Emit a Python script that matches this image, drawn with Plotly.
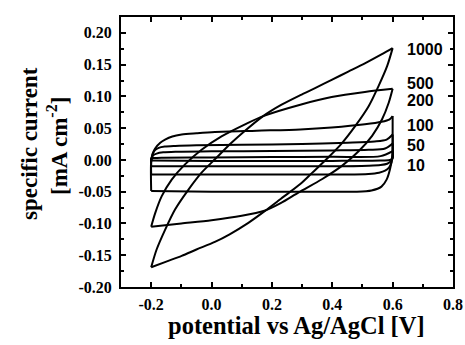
import plotly.graph_objects as go

# ---------------- data (potential in V, specific current in mA cm^-2) ----------------
scan_rates = ["1000", "500", "200", "100", "50", "10"]

E_UP_1000 = [-0.200, -0.182, -0.154, -0.121, -0.077, -0.033, 0.011, 0.066, 0.111, 0.171, 0.232, 0.294, 0.343, 0.398, 0.453, 0.508, 0.563, 0.600]
I_UP_1000 = [-0.169, -0.141, -0.110, -0.078, -0.047, -0.020, 0.001, 0.027, 0.046, 0.069, 0.087, 0.102, 0.113, 0.126, 0.139, 0.152, 0.166, 0.176]
E_DN_1000 = [0.600, 0.582, 0.554, 0.521, 0.477, 0.433, 0.389, 0.334, 0.294, 0.230, 0.175, 0.122, 0.060, 0.011, -0.050, -0.099, -0.150, -0.200]
I_DN_1000 = [0.176, 0.148, 0.117, 0.085, 0.054, 0.027, 0.005, -0.020, -0.038, -0.061, -0.081, -0.099, -0.117, -0.129, -0.141, -0.151, -0.160, -0.169]

E_UP_500 = [-0.200, -0.187, -0.165, -0.132, -0.088, -0.033, 0.033, 0.111, 0.171, 0.294, 0.398, 0.508, 0.600]
I_UP_500 = [-0.105, -0.084, -0.057, -0.031, -0.007, 0.016, 0.037, 0.056, 0.069, 0.087, 0.099, 0.107, 0.112]
E_DN_500 = [0.600, 0.587, 0.565, 0.532, 0.488, 0.433, 0.367, 0.289, 0.229, 0.175, 0.100, 0.000, -0.100, -0.200]
I_DN_500 = [0.112, 0.090, 0.064, 0.038, 0.014, -0.009, -0.030, -0.051, -0.068, -0.080, -0.088, -0.095, -0.100, -0.105]

E_UP_200 = [-0.200, -0.200, -0.195, -0.187, -0.170, -0.154, -0.130, -0.099, -0.050, 0.011, 0.150, 0.294, 0.398, 0.508, 0.563, 0.590, 0.600]
I_UP_200 = [-0.049, -0.002, 0.010, 0.018, 0.027, 0.032, 0.037, 0.040, 0.042, 0.044, 0.046, 0.048, 0.051, 0.056, 0.060, 0.064, 0.069]
E_DN_200 = [0.600, 0.600, 0.599, 0.591, 0.580, 0.563, 0.530, 0.480, 0.400, 0.200, 0.000, -0.200]
I_DN_200 = [0.069, 0.032, 0.006, -0.015, -0.031, -0.042, -0.048, -0.050, -0.050, -0.050, -0.050, -0.049]

E_UP_100 = [-0.200, -0.200, -0.196, -0.188, -0.175, -0.155, -0.120, -0.050, 0.100, 0.300, 0.450, 0.540, 0.580, 0.600]
I_UP_100 = [-0.023, -0.003, 0.008, 0.015, 0.019, 0.021, 0.022, 0.023, 0.024, 0.025, 0.027, 0.029, 0.032, 0.040]
E_DN_100 = [0.600, 0.600, 0.596, 0.588, 0.575, 0.555, 0.520, 0.450, 0.300, 0.100, -0.100, -0.200]
I_DN_100 = [0.040, 0.010, -0.004, -0.012, -0.017, -0.020, -0.022, -0.023, -0.023, -0.023, -0.023, -0.023]

E_UP_50 = [-0.200, -0.200, -0.194, -0.182, -0.160, -0.120, 0.000, 0.200, 0.400, 0.520, 0.575, 0.600]
I_UP_50 = [-0.010, 0.000, 0.007, 0.010, 0.012, 0.013, 0.0135, 0.014, 0.015, 0.016, 0.018, 0.026]
E_DN_50 = [0.600, 0.600, 0.594, 0.582, 0.560, 0.520, 0.400, 0.200, 0.000, -0.200]
I_DN_50 = [0.026, 0.006, -0.002, -0.006, -0.008, -0.009, -0.010, -0.010, -0.010, -0.010]

E_UP_10 = [-0.200, -0.200, -0.190, -0.160, 0.000, 0.200, 0.400, 0.560, 0.600]
I_UP_10 = [-0.001, 0.002, 0.003, 0.0035, 0.004, 0.0045, 0.005, 0.006, 0.014]
E_DN_10 = [0.600, 0.600, 0.590, 0.560, 0.400, 0.200, 0.000, -0.200]
I_DN_10 = [0.014, 0.002, 0.000, -0.001, -0.0015, -0.0015, -0.0015, -0.001]

x_tick_vals = [-0.2, 0.0, 0.2, 0.4, 0.6, 0.8]
x_tick_labels = ["-0.2", "0.0", "0.2", "0.4", "0.6", "0.8"]
x_minor_vals = [-0.3, -0.1, 0.1, 0.3, 0.5, 0.7]
y_tick_vals = [-0.20, -0.15, -0.10, -0.05, 0.00, 0.05, 0.10, 0.15, 0.20]
y_tick_labels = ["-0.20", "-0.15", "-0.10", "-0.05", "0.00", "0.05", "0.10", "0.15", "0.20"]
y_minor_vals = [-0.175, -0.125, -0.075, -0.025, 0.025, 0.075, 0.125, 0.175]

# label anchor currents (where each scan-rate label sits next to the curves)
label_y = [0.174, 0.121, 0.093, 0.054, 0.0225, -0.009]
label_x = 0.645

branches = [
    (E_UP_1000, I_UP_1000), (E_DN_1000, I_DN_1000),
    (E_UP_500, I_UP_500), (E_DN_500, I_DN_500),
    (E_UP_200, I_UP_200), (E_DN_200, I_DN_200),
    (E_UP_100, I_UP_100), (E_DN_100, I_DN_100),
    (E_UP_50, I_UP_50), (E_DN_50, I_DN_50),
    (E_UP_10, I_UP_10), (E_DN_10, I_DN_10),
]

fig = go.Figure()
for ex, iy in branches:
    fig.add_trace(go.Scatter(
        x=ex, y=iy, mode="lines",
        line=dict(color="black", width=2, shape="spline", smoothing=0.8),
        showlegend=False, hoverinfo="skip",
    ))

serif = "Liberation Serif"
tick_font = dict(family=serif, size=16, color="black", weight="bold")

fig.update_xaxes(
    range=[-0.3, 0.8], tickmode="array", tickvals=x_tick_vals, ticktext=x_tick_labels,
    ticks="inside", ticklen=5, tickwidth=1.5, tickcolor="black",
    showline=True, linewidth=2, linecolor="black", mirror="allticks",
    showgrid=False, zeroline=False, tickfont=tick_font, automargin=False,
    ticklabelstandoff=2,
    minor=dict(tickmode="array", tickvals=x_minor_vals, ticks="inside", ticklen=3, tickwidth=1.5, tickcolor="black", showgrid=False),
)
fig.update_yaxes(
    range=[-0.20, 0.225], tickmode="array", tickvals=y_tick_vals, ticktext=y_tick_labels,
    ticks="inside", ticklen=5, tickwidth=1.5, tickcolor="black",
    showline=True, linewidth=2, linecolor="black", mirror="allticks",
    showgrid=False, zeroline=False, tickfont=tick_font, automargin=False,
    ticklabelstandoff=4,
    minor=dict(tickmode="array", tickvals=y_minor_vals, ticks="inside", ticklen=3, tickwidth=1.5, tickcolor="black", showgrid=False),
)

annotations = []
for txt, ly in zip(scan_rates, label_y):
    annotations.append(dict(
        x=label_x, y=ly, xref="x", yref="y", text=txt, showarrow=False,
        xanchor="left", yanchor="middle", borderpad=0,
        font=dict(family="Liberation Sans", size=16, color="black", weight="bold"),
    ))
annotations.append(dict(
    x=0.53, y=-0.144, xref="paper", yref="paper", text="potential vs Ag/AgCl [V]",
    showarrow=False, xanchor="center", yanchor="middle",
    font=dict(family=serif, size=24.5, color="black", weight="bold"),
))
annotations.append(dict(
    x=-0.274, y=0.530, xref="paper", yref="paper", text="specific current",
    showarrow=False, xanchor="center", yanchor="middle", textangle=-90,
    font=dict(family=serif, size=23, color="black", weight="bold"),
))
annotations.append(dict(
    x=-0.193, y=0.522, xref="paper", yref="paper", text="[mA cm<sup>-2</sup>]",
    showarrow=False, xanchor="center", yanchor="middle", textangle=-90,
    font=dict(family=serif, size=23, color="black", weight="bold"),
))

fig.update_layout(
    width=465, height=345,
    margin=dict(l=121, r=12, t=17, b=58, pad=0),
    paper_bgcolor="white", plot_bgcolor="white",
    annotations=annotations,
)

# remove the default page margin so the figure fills the window exactly
fig.write_html(
    "out.html",
    config={"displayModeBar": False},
    post_script="document.body.style.margin='0';document.body.style.overflow='hidden';",
)
